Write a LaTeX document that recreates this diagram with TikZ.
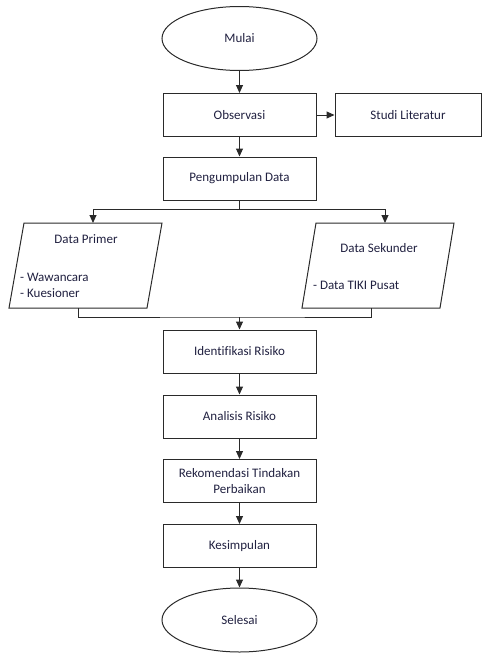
\documentclass[tikz,border=0pt]{standalone}
\usepackage{fontspec}
\setmainfont[Ligatures=NoCommon]{Carlito}
\usetikzlibrary{arrows.meta,shapes.geometric}
\definecolor{ln}{HTML}{2A2A2A}
\definecolor{tx}{HTML}{202040}
\begin{document}
\begin{tikzpicture}[x=1pt,y=-1pt,
  font=\fontsize{13}{16}\selectfont,
  box/.style={draw=ln, line width=1pt, minimum width=153pt, minimum height=43pt, inner sep=2pt, text=tx, align=center},
  term/.style={draw=ln, ellipse, line width=1pt, minimum width=155pt, minimum height=64pt, inner sep=0pt, text=tx},
  para/.style={draw=ln, line width=1pt, line join=miter},
  lbl/.style={text=tx, inner sep=0pt},
  arr/.style={draw=ln, line width=1pt, -{Triangle[length=8pt,width=7pt]}},
  conn/.style={draw=ln, line width=1pt}]
\useasboundingbox (0,0) rectangle (485,653);

\node[term] (mulai) at (239.5,38.5) {Mulai};
\node[box] (obs) at (239.5,115) {Observasi};
\node[box, minimum width=146pt] (studi) at (408,115) {Studi Literatur};
\node[box] (peng) at (239.5,178.5) {Pengumpulan Data};
\node[box] (iden) at (239.5,351.5) {Identifikasi Risiko};
\node[box] (anal) at (239.5,416.5) {Analisis Risiko};
\node[box] (rek) at (239.5,481) {Rekomendasi Tindakan\\Perbaikan};
\node[box] (kes) at (239.5,546) {Kesimpulan};
\node[term] (sel) at (239.5,620) {Selesai};

% parallelograms
\draw[para] (24,223) -- (162,223) -- (147,308) -- (9,308) -- cycle;
\draw[para] (316,223) -- (454,223) -- (440,308) -- (302,308) -- cycle;
\coordinate (dpT) at (93,223);
\coordinate (dpB) at (78,308);
\coordinate (dsT) at (385,223);
\coordinate (dsB) at (371,308);
\node[lbl] (dptitle) at (86,239) {Data Primer};
\node[lbl, anchor=west, align=left] (dplist) at (20,285) {- Wawancara\\- Kuesioner};
\node[lbl] (dstitle) at (379,248) {Data Sekunder};
\node[lbl, anchor=west] (dslist) at (313,285) {- Data TIKI Pusat};

% connectors
\draw[arr] (mulai) -- (obs);
\draw[arr] (obs) -- (studi);
\draw[arr] (obs) -- (peng);
\coordinate (split) at (239.5,209);
\draw[conn] (peng.south) -- (split);
\draw[arr] (split) -| (dpT);
\draw[arr] (split) -| (dsT);
\coordinate (join) at (239.5,317);
\draw[conn] (dpB) |- (join) -| (dsB);
\draw[arr] (join) -- (iden.north);
\draw[arr] (iden) -- (anal);
\draw[arr] (anal) -- (rek);
\draw[arr] (rek) -- (kes);
\draw[arr] (kes) -- (sel);
\end{tikzpicture}
\end{document}
